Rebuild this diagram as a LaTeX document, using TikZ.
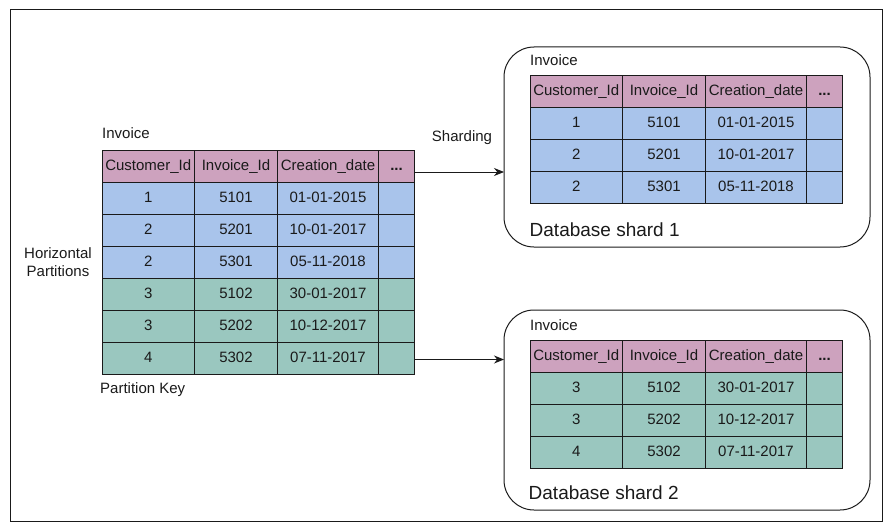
\documentclass[tikz,border=0pt]{standalone}
\usepackage{fontspec}
\setmainfont{Liberation Sans}
\usetikzlibrary{arrows.meta}

\definecolor{headpink}{HTML}{CDA2BE}
\definecolor{rowblue}{HTML}{A9C4EB}
\definecolor{rowgreen}{HTML}{9AC7BF}
\definecolor{ink}{HTML}{1A1A1A}

\tikzset{
  cell/.style={draw=ink, line width=1pt, inner sep=0pt, outer sep=0pt,
    minimum height=32pt, anchor=north west, text=ink,
    text height=11pt, text depth=3pt,
    font=\fontsize{15}{17}\selectfont},
  shard/.style={draw=ink, line width=1pt, rounded corners=30pt,
    minimum width=366pt, minimum height=200pt, anchor=north west,
    inner sep=0pt, outer sep=0pt},
  lbl/.style={inner sep=0pt, text=ink, font=\fontsize{15}{18}\selectfont},
  biglbl/.style={inner sep=0pt, anchor=west, text=ink,
    font=\fontsize{19}{21}\selectfont},
  conn/.style={draw=ink, line width=1pt, -{Stealth[length=10pt,width=8pt]}},
}

% one table row: name prefix, x, y, fill, four cell texts
\newcommand{\tabrow}[8]{%
  \node[cell, fill=#4, minimum width=92.5pt] (#1-a) at (#2,#3) {#5};
  \node[cell, fill=#4, minimum width=83pt]   (#1-b) at (#1-a.north east) {#6};
  \node[cell, fill=#4, minimum width=101pt]  (#1-c) at (#1-b.north east) {#7};
  \node[cell, fill=#4, minimum width=36pt]   (#1-d) at (#1-c.north east) {#8};
}
\newcommand{\tabhead}[3]{%
  \tabrow{#1}{#2}{#3}{headpink}{Customer\_Id}{Invoice\_Id}{Creation\_date}{\textbf{...}}}

\begin{document}
\begin{tikzpicture}[x=1pt, y=-1pt]
  \useasboundingbox (0,0) rectangle (892,527);
  \draw[draw=ink, line width=1pt] (10,10) rectangle (882,521);

  % source table
  \node[lbl, anchor=west] (srcname) at (102,133) {Invoice};
  \tabhead{L0}{102}{150}
  \tabrow{L1}{102}{182}{rowblue}{1}{5101}{01-01-2015}{}
  \tabrow{L2}{102}{214}{rowblue}{2}{5201}{10-01-2017}{}
  \tabrow{L3}{102}{246}{rowblue}{2}{5301}{05-11-2018}{}
  \tabrow{L4}{102}{278}{rowgreen}{3}{5102}{30-01-2017}{}
  \tabrow{L5}{102}{310}{rowgreen}{3}{5202}{10-12-2017}{}
  \tabrow{L6}{102}{342}{rowgreen}{4}{5302}{07-11-2017}{}
  \node[lbl, anchor=west] (pkey) at (100,390) {Partition Key};
  \node[lbl, align=center] (hpart) at (58,262) {Horizontal\\Partitions};

  % shard 1
  \node[shard] (shard1) at (504,47) {};
  \node[lbl, anchor=west] (s1name) at (530,60) {Invoice};
  \tabhead{A0}{530}{75.5}
  \tabrow{A1}{530}{107.5}{rowblue}{1}{5101}{01-01-2015}{}
  \tabrow{A2}{530}{139.5}{rowblue}{2}{5201}{10-01-2017}{}
  \tabrow{A3}{530}{171.5}{rowblue}{2}{5301}{05-11-2018}{}
  \node[biglbl] (s1lbl) at (529.5,229.5) {Database shard 1};

  % shard 2
  \node[shard] (shard2) at (504,310) {};
  \node[lbl, anchor=west] (s2name) at (530,325) {Invoice};
  \tabhead{B0}{530}{340}
  \tabrow{B1}{530}{372}{rowgreen}{3}{5102}{30-01-2017}{}
  \tabrow{B2}{530}{404}{rowgreen}{3}{5202}{10-12-2017}{}
  \tabrow{B3}{530}{436}{rowgreen}{4}{5302}{07-11-2017}{}
  \node[biglbl] (s2lbl) at (528.5,492.5) {Database shard 2};

  % sharding connectors
  \coordinate (out1) at (L0-d.east |- 0,172);
  \coordinate (out2) at (L6-d.east |- 0,359.5);
  \draw[conn] (out1) -- (out1 -| shard1.west);
  \draw[conn] (out2) -- (out2 -| shard2.west);
  \node[lbl] (shardlbl) at (462,138) {Sharding};
\end{tikzpicture}
\end{document}
